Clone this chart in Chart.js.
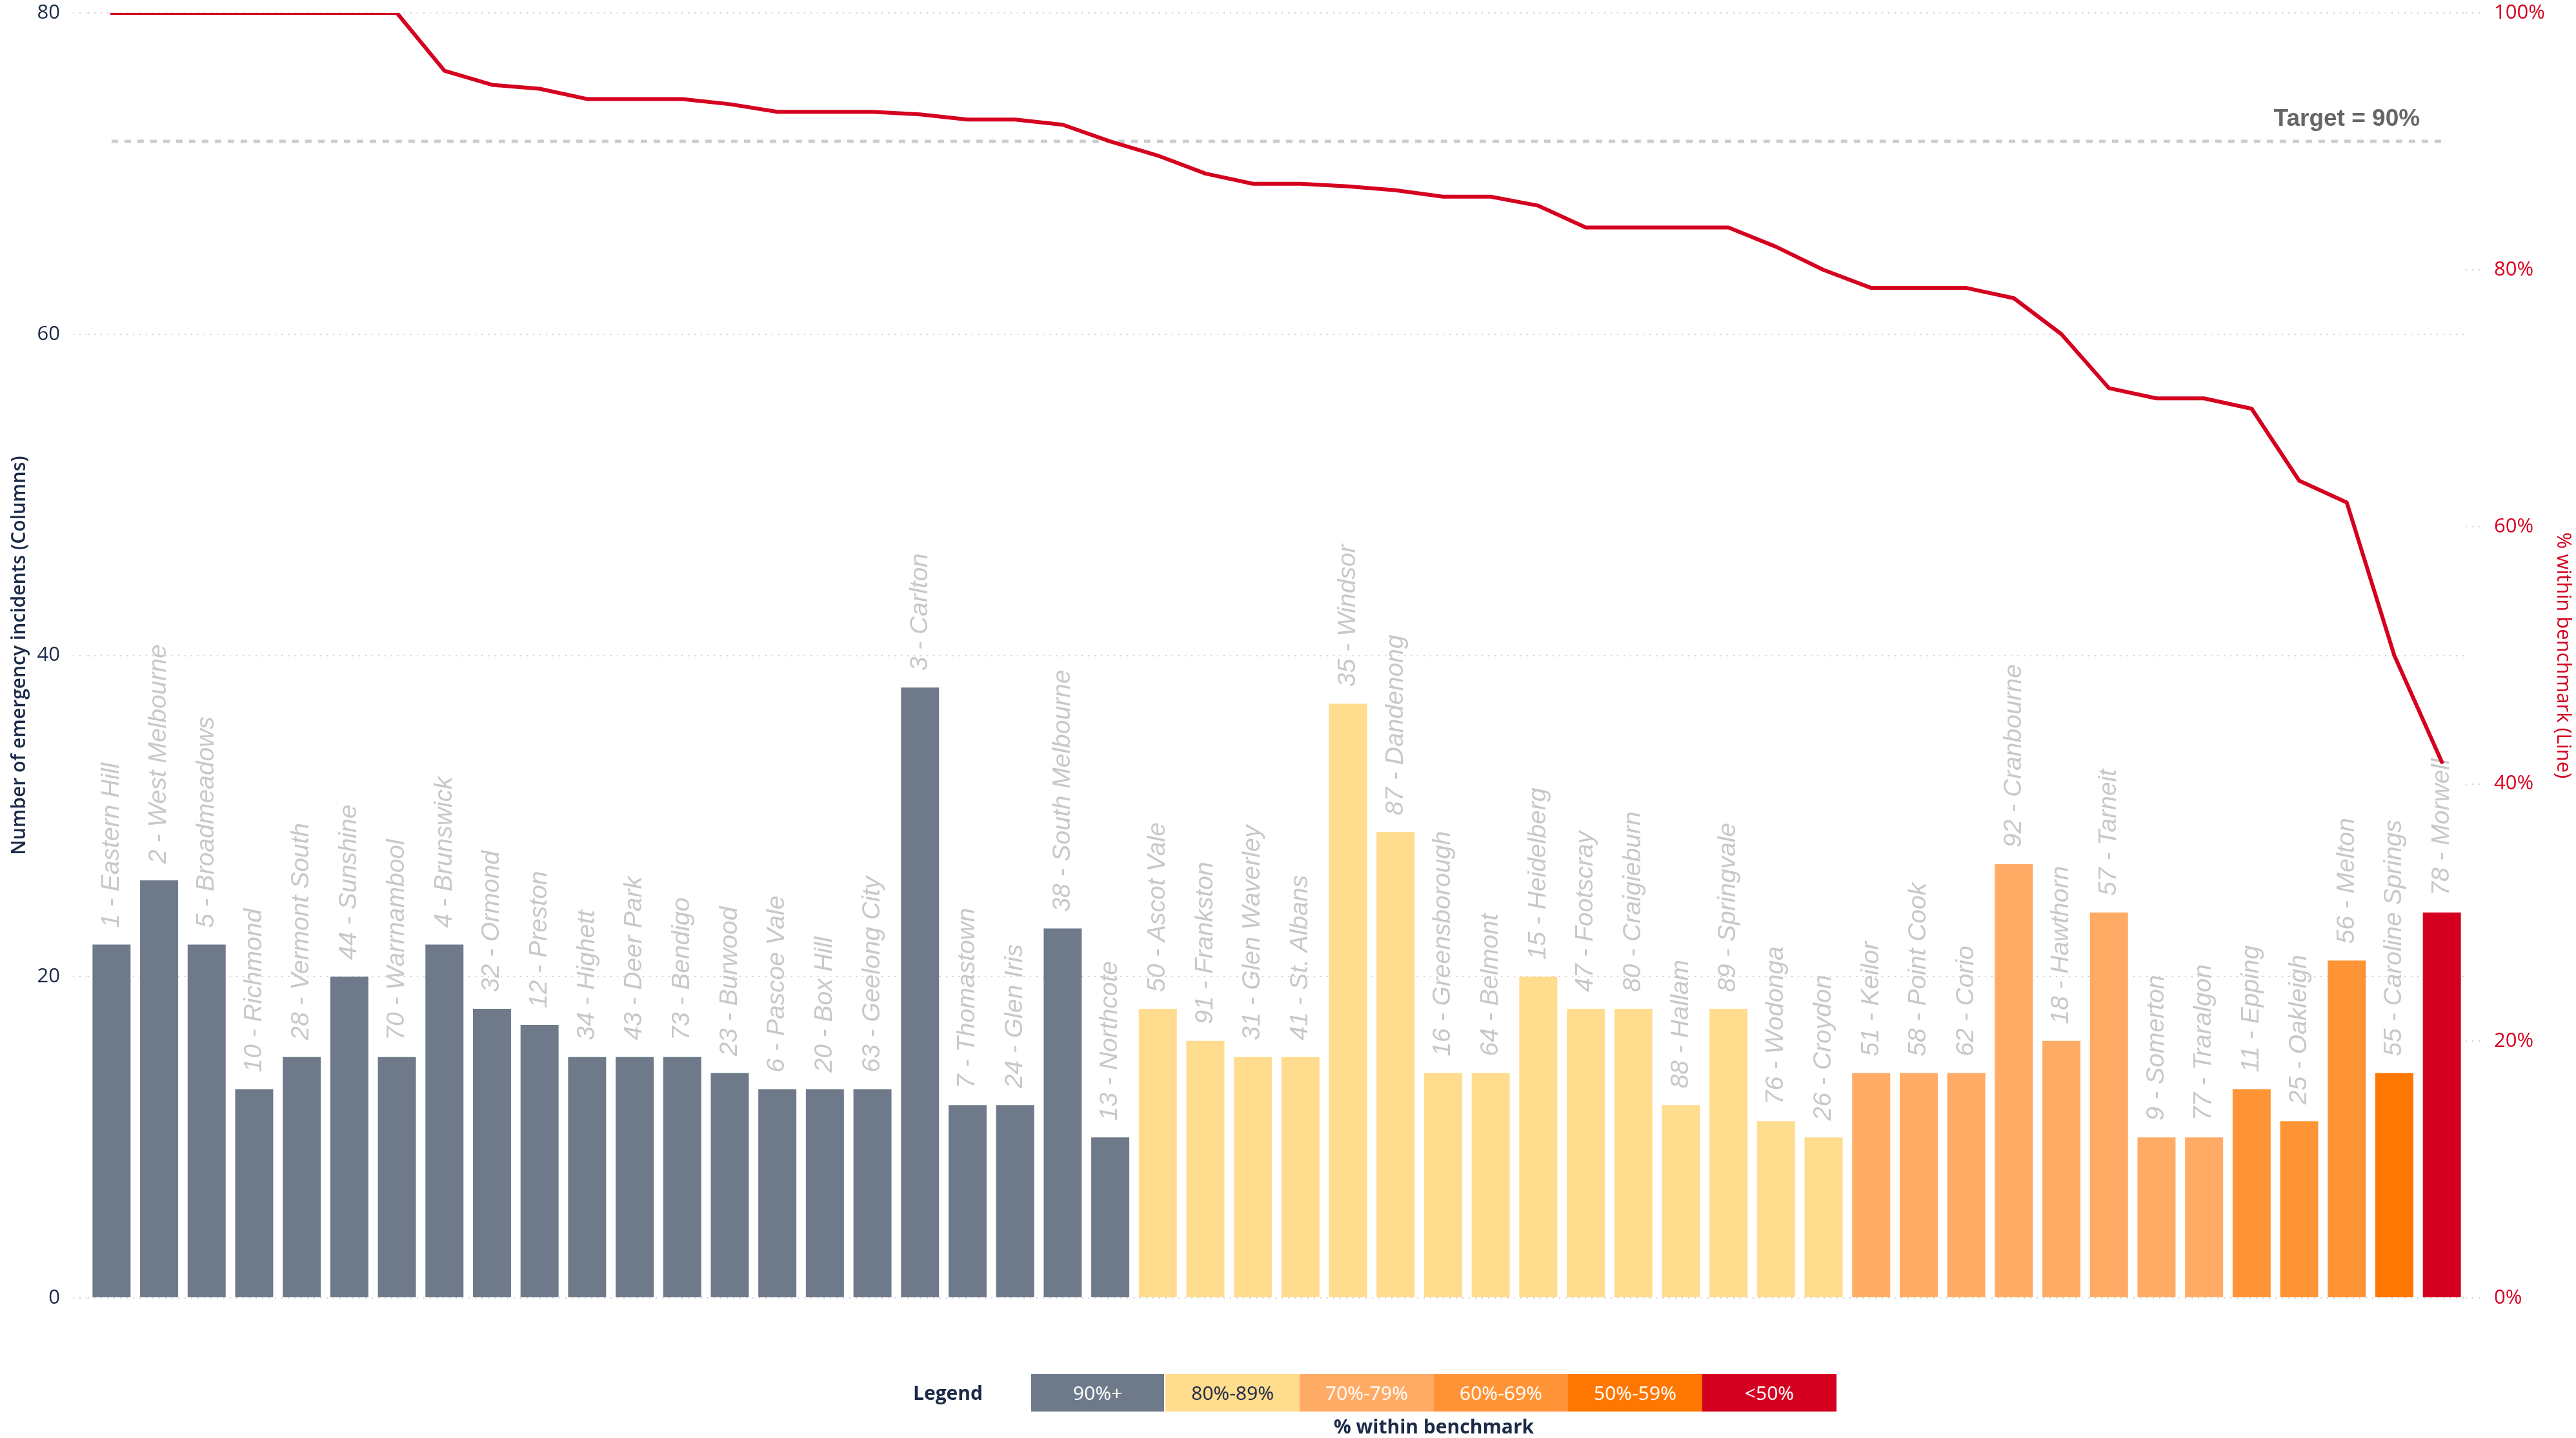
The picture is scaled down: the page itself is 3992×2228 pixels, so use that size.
<!DOCTYPE html>
<html>
<head>
<meta charset="utf-8">
<script src="https://cdn.jsdelivr.net/npm/chart.js@4.4.1/dist/chart.umd.min.js"></script>
<style>
html,body{margin:0;padding:0;background:#fff;}
#wrap{position:relative;width:3992px;height:2228px;overflow:hidden;background:#fff;}
#c{position:absolute;left:0;top:0;}
.txt{position:absolute;font-family:'Open Sans','Noto Sans',sans-serif;white-space:nowrap;}
#legendTitle{left:1415px;top:2129px;height:58px;line-height:58px;font-size:30px;font-weight:700;color:#1b2a47;}
#legendBoxes{position:absolute;left:1598px;top:2129px;height:58px;display:flex;}
#legendBoxes div{width:208px;height:58px;line-height:58px;text-align:center;font-size:30px;font-family:'Open Sans','Noto Sans',sans-serif;}
#legendSub{left:2022px;width:400px;top:2190px;text-align:center;font-size:30px;font-weight:700;color:#1b2a47;line-height:40px;}
</style>
</head>
<body>
<div id="wrap">
<canvas id="c" width="3992" height="2228"></canvas>
<div id="legendTitle" class="txt">Legend</div>
<div id="legendBoxes"></div>
<div id="legendSub" class="txt">% within benchmark</div>
</div>
<script>
// ---- Data ----
const categories = [
  "1 - Eastern Hill","2 - West Melbourne","5 - Broadmeadows","10 - Richmond","28 - Vermont South",
  "44 - Sunshine","70 - Warrnambool","4 - Brunswick","32 - Ormond","12 - Preston",
  "34 - Highett","43 - Deer Park","73 - Bendigo","23 - Burwood","6 - Pascoe Vale",
  "20 - Box Hill","63 - Geelong City","3 - Carlton","7 - Thomastown","24 - Glen Iris",
  "38 - South Melbourne","13 - Northcote","50 - Ascot Vale","91 - Frankston","31 - Glen Waverley",
  "41 - St. Albans","35 - Windsor","87 - Dandenong","16 - Greensborough","64 - Belmont",
  "15 - Heidelberg","47 - Footscray","80 - Craigieburn","88 - Hallam","89 - Springvale",
  "76 - Wodonga","26 - Croydon","51 - Keilor","58 - Point Cook","62 - Corio",
  "92 - Cranbourne","18 - Hawthorn","57 - Tarneit","9 - Somerton","77 - Traralgon",
  "11 - Epping","25 - Oakleigh","56 - Melton","55 - Caroline Springs","78 - Morwell"
];
const incidents = [
  22,26,22,13,15, 20,15,22,18,17,
  15,15,15,14,13, 13,13,38,12,12,
  23,10,18,16,15, 15,37,29,14,14,
  20,18,18,12,18, 11,10,14,14,14,
  27,16,24,10,10, 13,11,21,14,24
];
const pctWithin = [
  100,100,100,100,100, 100,100,95.5,94.4,94.1,
  93.3,93.3,93.3,92.9,92.3, 92.3,92.3,92.1,91.7,91.7,
  91.3,90.0,88.9,87.5,86.7, 86.7,86.5,86.2,85.7,85.7,
  85.0,83.3,83.3,83.3,83.3, 81.8,80.0,78.6,78.6,78.6,
  77.8,75.0,70.8,70.0,70.0, 69.2,63.6,61.9,50.0,41.7
];
const targetPct = 90;
const leftTickValues = [0,20,40,60,80];
const rightTickValues = [0,20,40,60,80,100];
const bandLabels = ["90%+","80%-89%","70%-79%","60%-69%","50%-59%","<50%"];
const bandMins = [90,80,70,60,50,0];
const bandColors = ["#6e7a8a","#ffdc8e","#ffab66","#ff9436","#ff7700","#d5001f"];
const bandTextColors = ["#ffffff","#1b2a47","#ffffff","#ffffff","#ffffff","#ffffff"];

// ---- Legend (HTML) ----
const lb = document.getElementById('legendBoxes');
bandLabels.forEach((t, i) => {
  const d = document.createElement('div');
  d.textContent = t;
  d.style.background = bandColors[i];
  d.style.color = bandTextColors[i];
  if (i === 0) { d.style.boxSizing = 'border-box'; d.style.borderRight = '2px solid #fff'; }
  lb.appendChild(d);
});

const barColors = pctWithin.map(p => bandColors[bandMins.findIndex(m => p >= m)]);

const NAVY = '#1b2a47';
const RED = '#d5001f';
const GRID = '#d2d2d2';

Chart.defaults.font.family = "'Open Sans','Noto Sans',sans-serif";

const barLabelPlugin = {
  id: 'barLabels',
  afterDatasetDraw(chart, args) {
    if (args.meta.type !== 'bar') return;
    const ctx = chart.ctx;
    ctx.save();
    ctx.font = 'italic 39px "Liberation Sans", Arial, sans-serif';
    ctx.fillStyle = '#c8c8c8';
    ctx.textAlign = 'left';
    ctx.textBaseline = 'middle';
    args.meta.data.forEach((bar, i) => {
      ctx.save();
      ctx.translate(bar.x, bar.y - 26);
      ctx.rotate(-Math.PI / 2);
      ctx.fillText(categories[i], 0, 0);
      ctx.restore();
    });
    ctx.restore();
  }
};

const targetLabelPlugin = {
  id: 'targetLabel',
  afterDatasetsDraw(chart) {
    const ctx = chart.ctx;
    const xs = chart.scales.x, ys = chart.scales.y1;
    const x = xs.getPixelForValue(categories.length - 1) - 34;
    const y = ys.getPixelForValue(targetPct) - 24;
    ctx.save();
    ctx.font = 'bold 37px "Liberation Sans", Arial, sans-serif';
    ctx.fillStyle = '#666666';
    ctx.textAlign = 'right';
    ctx.textBaseline = 'alphabetic';
    ctx.fillText('Target = ' + targetPct + '%', x, y);
    ctx.restore();
  }
};

new Chart(document.getElementById('c'), {
  type: 'bar',
  data: {
    labels: categories,
    datasets: [
      {
        type: 'line',
        label: '% within benchmark',
        data: pctWithin,
        yAxisID: 'y1',
        borderColor: RED,
        borderWidth: 6,
        pointRadius: 0,
        tension: 0,
        borderCapStyle: 'round',
        borderJoinStyle: 'round',
        fill: false,
        order: 1
      },
      {
        type: 'line',
        label: 'Target',
        data: [{x: categories[0], y: targetPct}, {x: categories[categories.length - 1], y: targetPct}],
        yAxisID: 'y1',
        borderColor: '#cccccc',
        borderWidth: 5,
        borderDash: [10, 10],
        pointRadius: 0,
        fill: false,
        order: 2
      },
      {
        type: 'bar',
        label: 'Number of emergency incidents',
        data: incidents,
        yAxisID: 'y',
        backgroundColor: barColors,
        barPercentage: 0.8,
        categoryPercentage: 1.0,
        order: 3
      }
    ]
  },
  options: {
    responsive: false,
    animation: false,
    devicePixelRatio: 1,
    layout: { padding: { top: 20, bottom: 217, left: 0, right: 0 } },
    plugins: { legend: { display: false }, tooltip: { enabled: false } },
    scales: {
      x: {
        display: false,
        offset: true,
        grid: { display: false }
      },
      y: {
        position: 'left',
        min: 0, max: 80,
        afterBuildTicks: s => { s.ticks = leftTickValues.map(v => ({ value: v })); },
        afterFit: s => { s.width = 136; s.paddingTop = 0; s.paddingBottom = 0; },
        ticks: { color: NAVY, font: { size: 31 }, padding: 20 },
        grid: { color: GRID, lineWidth: 2, tickLength: 23, tickBorderDash: [2, 8], tickColor: GRID },
        border: { display: false, dash: [2, 8] },
        title: {
          display: true,
          text: 'Number of emergency incidents (Columns)',
          color: NAVY,
          font: { size: 30, weight: '600' },
          padding: { top: 12, bottom: 0 }
        }
      },
      y1: {
        position: 'right',
        min: 0, max: 100,
        afterBuildTicks: s => { s.ticks = rightTickValues.map(v => ({ value: v })); },
        afterFit: s => { s.width = 171; s.paddingTop = 0; s.paddingBottom = 0; },
        ticks: { color: RED, font: { size: 31 }, padding: 20, callback: v => v + '%' },
        grid: { drawOnChartArea: false, color: GRID, lineWidth: 2, tickLength: 24, tickBorderDash: [2, 8], tickColor: GRID },
        border: { display: false },
        title: {
          display: true,
          text: '% within benchmark (Line)',
          color: RED,
          font: { size: 31, weight: '400' },
          padding: { top: 2, bottom: 0 }
        }
      }
    }
  },
  plugins: [barLabelPlugin, targetLabelPlugin]
});
</script>
</body>
</html>
